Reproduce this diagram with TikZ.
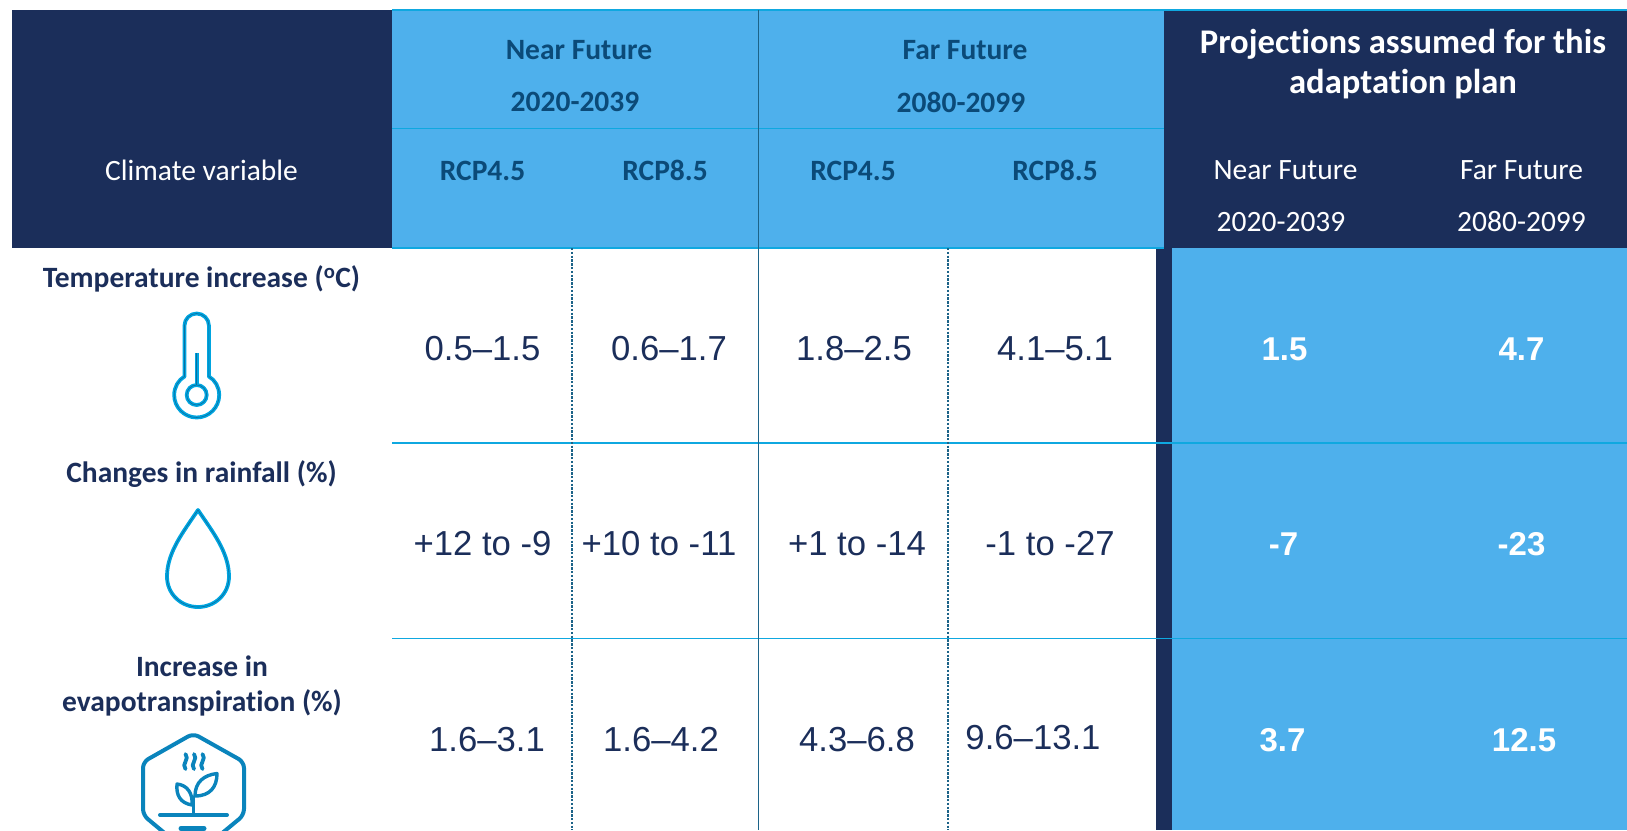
\documentclass[tikz,border=0pt]{standalone}
\usepackage{fontspec}
\setmainfont[Ligatures=NoCommon]{Carlito}
\newfontfamily\arialf{Liberation Sans}
\definecolor{navy}{HTML}{1B2E5A}
\definecolor{sky}{HTML}{4EB0EC}
\definecolor{rule}{HTML}{0FA8E0}
\definecolor{vrule}{HTML}{1C6388}
\definecolor{rcp}{HTML}{0B4A78}
\definecolor{icona}{HTML}{00A5E0}
\definecolor{iconb}{HTML}{0A84BC}
\definecolor{iconc}{HTML}{0A6FA0}
\tikzset{
  x=1pt,y=-1pt,
  every node/.style={inner sep=0pt,outer sep=0pt,align=center,anchor=center},
  headb/.style={font=\fontsize{29.5}{35}\selectfont\bfseries,text=rcp},
  headw/.style={font=\fontsize{29.5}{35}\selectfont,text=white},
  headt/.style={font=\fontsize{34.6}{40}\selectfont\bfseries,text=white},
  rowl/.style={font=\fontsize{29.5}{35.5}\selectfont\bfseries,text=navy},
  val/.style={font=\arialf\fontsize{34.7}{40}\selectfont,text=navy},
  valb/.style={font=\arialf\fontsize{33}{40}\selectfont\bfseries,text=white},
  hrule/.style={draw=rule,line width=1.2pt},
  vsolid/.style={draw=vrule,line width=1.2pt},
  vdash/.style={draw=vrule,line width=1.2pt,dash pattern=on 2.4pt off 1.4pt},
  iconout/.style={draw=icona,line width=3.8pt,line join=round},
  iconin/.style={draw=iconc,line width=.6pt,line join=round},
  plant/.style={draw=iconb,line width=4pt,line cap=round,line join=round},
}
\begin{document}
\begin{tikzpicture}
\useasboundingbox (0,0) rectangle (1627,830);
% backgrounds
\fill[navy] (12,10) rectangle (392,248);
\fill[sky] (392,10) rectangle (1164,248);
\fill[navy] (1164,10) rectangle (1627,248);
\fill[sky] (1171.5,248) rectangle (1627,830);
\fill[navy] (1156,248) rectangle (1171.5,830);
% rules
\draw[hrule] (392,10) -- (1627,10);
\draw[hrule] (392,128.7) -- (1164,128.7);
\draw[hrule] (392,248) -- (1164,248);
\draw[hrule] (392,443) -- (1627,443);
\draw[hrule] (392,638.5) -- (1627,638.5);
\draw[vsolid] (758.5,10) -- (758.5,830);
\draw[vdash] (572,248) -- (572,830);
\draw[vdash] (948,248) -- (948,830);
% header
\node[headb] (nf) at (579,50) {Near Future};
\node[headb] (nfy) at (575,102) {2020-2039};
\node[headb] (ff) at (965,50) {Far Future};
\node[headb] (ffy) at (961,102) {2080-2099};
\node[headb] (r1) at (482.5,170.5) {RCP4.5};
\node[headb] (r2) at (665,170) {RCP8.5};
\node[headb] (r3) at (853,170.5) {RCP4.5};
\node[headb] (r4) at (1055,170) {RCP8.5};
\node[headt] (proj) at (1403,64) {Projections assumed for this\\adaptation plan};
\node[headw] (cv) at (201.5,170) {Climate variable};
\node[headw] (pn) at (1285.5,170) {Near Future};
\node[headw] (pf) at (1521.5,170) {Far Future};
\node[headw] (pny) at (1281,222) {2020-2039};
\node[headw] (pfy) at (1521.5,222) {2080-2099};
% row labels
\node[rowl] (l1) at (201.5,279) {Temperature increase (\textsuperscript{o}C)};
\node[rowl] (l2) at (201.5,474) {Changes in rainfall (\%)};
\node[rowl] (l3) at (202,686) {Increase in\\evapotranspiration (\%)};
% values
\node[val] (a1) at (482.5,349) {0.5–1.5};
\node[val] (a2) at (669,349) {0.6–1.7};
\node[val] (a3) at (854,349) {1.8–2.5};
\node[val] (a4) at (1055,349) {4.1–5.1};
\node[valb] (a5) at (1284.5,349) {1.5};
\node[valb] (a6) at (1521.5,349) {4.7};
\node[val] (b1) at (482.5,543.7) {+12 to -9};
\node[val] (b2) at (659,543.7) {+10 to -11};
\node[val] (b3) at (857,543.7) {+1 to -14};
\node[val] (b4) at (1050,543.7) {-1 to -27};
\node[valb] (b5) at (1283.5,543.7) {-7};
\node[valb] (b6) at (1521.5,543.7) {-23};
\node[val] (c1) at (487,740) {1.6–3.1};
\node[val] (c2) at (661,740) {1.6–4.2};
\node[val] (c3) at (857,740) {4.3–6.8};
\node[val] (c4) at (1033,738) {9.6–13.1};
\node[valb] (c5) at (1282.5,740) {3.7};
\node[valb] (c6) at (1524,740) {12.5};
% thermometer
\foreach \st in {iconout,iconin}{
  \draw[\st] (184.5,376.5) -- (184.5,325.5)
    .. controls (184.5,318.9) and (190.1,313.5) .. (196.7,313.5)
    .. controls (203.3,313.5) and (208.9,318.9) .. (208.9,325.5)
    -- (208.9,376.5)
    .. controls (215,380) and (219.2,387) .. (219.2,395)
    .. controls (219.2,407.4) and (209.1,417.5) .. (196.7,417.5)
    .. controls (184.3,417.5) and (174.2,407.4) .. (174.2,395)
    .. controls (174.2,387) and (178.4,380) .. (184.5,376.5) -- cycle;
  \draw[\st] (196.7,395) circle[radius=10];
  \draw[\st] (196.7,353) -- (196.7,385);
}
% droplet
\foreach \st in {iconout,iconin}{
  \draw[\st] (198,510) .. controls (212,531) and (229,552) .. (229,576.5)
    .. controls (229,594) and (215,607) .. (198,607)
    .. controls (181,607) and (167,594) .. (167,576.5)
    .. controls (167,552) and (184,531) .. (198,510) -- cycle;
}
% plant hexagon
\begin{scope}
\clip (130,725) rectangle (260,830);
\draw[plant,rounded corners=6pt] (193.3,733.5) -- (244,762) -- (244,815) -- (193.3,857) -- (143,815) -- (143,762) -- cycle;
\draw[plant,line width=3.8pt] (185.5,754) .. controls (190,759) and (181,764) .. (185.5,769);
\draw[plant,line width=3.8pt] (194,754) .. controls (198.5,759) and (189.5,764) .. (194,769);
\draw[plant,line width=3.8pt] (202.5,754) .. controls (207,759) and (198,764) .. (202.5,769);
\draw[plant,line width=3.4pt] (193.3,815) -- (193.3,797);
\draw[plant,line width=3.4pt] (195,796) .. controls (195,782) and (204,775) .. (217,773.5) .. controls (217,787) and (210,796) .. (195,796) -- cycle;
\draw[plant,line width=3.4pt] (192,805) .. controls (180,803) and (176,795) .. (177,784) .. controls (187,785) and (193,793) .. (192,805) -- cycle;
\draw[plant] (160,815) -- (227,815);
\draw[plant,line width=5pt] (181,828.5) -- (204,828.5);
\end{scope}
\end{tikzpicture}
\end{document}
